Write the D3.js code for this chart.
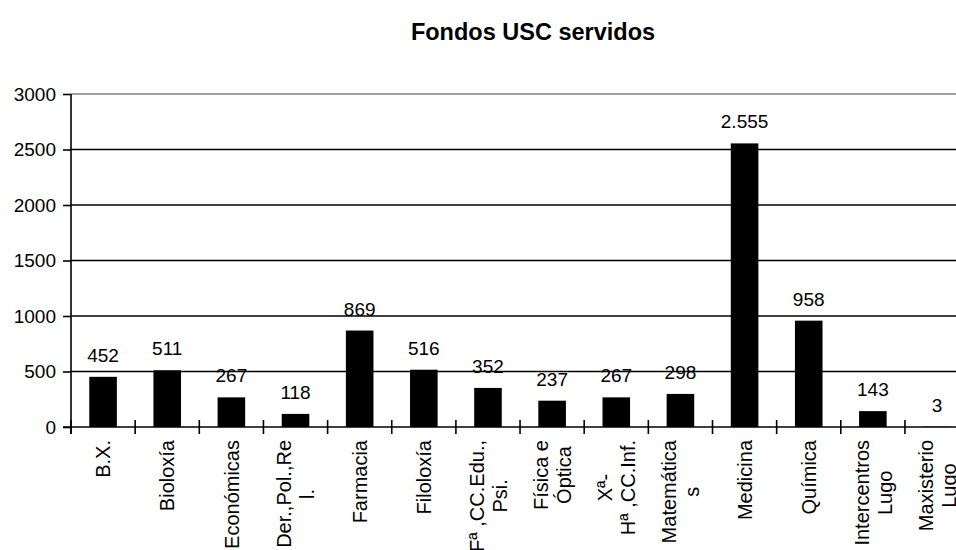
<!DOCTYPE html>
<html><head><meta charset="utf-8">
<script src="https://cdn.jsdelivr.net/npm/d3@7"></script>
<style>
body{margin:0;background:#fff}
svg{display:block}
text{font-family:"Liberation Sans",Arial,Helvetica,sans-serif;fill:#000}
</style>
</head><body>
<svg id="chart" width="956" height="550"></svg>
<script>
const chartTitle = "Fondos USC servidos";
const categories = ["B.X.","Bioloxía","Económicas","Der.,Pol.,Re\nl.","Farmacia","Filoloxía","Fª ,CC.Edu.,\nPsi.","Física e\nÓptica","Xª-\nHª ,CC.Inf.","Matemática\ns","Medicina","Química","Intercentros\nLugo","Maxisterio\nLugo"];
const values = [452,511,267,118,869,516,352,237,267,298,2555,958,143,3];
const valueLabels = ["452","511","267","118","869","516","352","237","267","298","2.555","958","143","3"];
const yTicks = [0,500,1000,1500,2000,2500,3000];

(function(){
const svg = d3.select("#chart");
const mLeft = 71, mTop = 94, mBottom = 427, band = 64.15;
const x = d3.scaleBand().domain(d3.range(categories.length)).range([mLeft, mLeft + band*categories.length]).paddingInner(0).paddingOuter(0);
const y = d3.scaleLinear().domain([0, 3000]).range([mBottom, mTop]);
const mRight = mLeft + band*categories.length;

// title
svg.append("text").attr("x", 533).attr("y", 40).attr("text-anchor","middle")
  .style("font-weight","bold").style("font-size","23.5px").text(chartTitle);

// gridlines
svg.append("g").selectAll("line").data(yTicks.filter(d=>d>0)).join("line")
  .attr("x1", mLeft).attr("x2", mRight).attr("y1", d=>y(d)).attr("y2", d=>y(d))
  .attr("stroke", d=> d===3000 ? "#808080" : "#000").attr("stroke-width", 1.6);

// bars
const bw = band*0.43;
svg.append("g").selectAll("rect").data(values).join("rect")
  .attr("x", (d,i)=> x(i) + x.bandwidth()/2 - bw/2)
  .attr("width", bw)
  .attr("y", d=>y(d)).attr("height", d=> mBottom - y(d))
  .attr("fill","#000");

// value labels
svg.append("g").selectAll("text").data(values).join("text")
  .attr("x", (d,i)=> x(i) + x.bandwidth()/2)
  .attr("y", d=> y(d) - 15)
  .attr("text-anchor","middle").style("font-size","19px")
  .text((d,i)=>valueLabels[i]);

// y axis
const yAxis = d3.axisLeft(y).tickValues(yTicks).tickSize(8).tickPadding(7).tickFormat(d3.format("d"));
const gy = svg.append("g").attr("transform", `translate(${mLeft},0)`).call(yAxis);
gy.attr("font-family", null).attr("font-size", null);
gy.select(".domain").remove();
gy.selectAll(".tick line").attr("stroke","#000").attr("stroke-width",1.6);
gy.selectAll(".tick text").style("font-size","19px");
svg.append("line").attr("x1", mLeft).attr("x2", mLeft).attr("y1", mTop).attr("y2", mBottom+7)
  .attr("stroke","#000").attr("stroke-width",1.6);

// x axis line + ticks at band boundaries
svg.append("line").attr("x1", mLeft-8).attr("x2", mRight).attr("y1", mBottom).attr("y2", mBottom)
  .attr("stroke","#000").attr("stroke-width",1.6);
const bounds = d3.range(categories.length+1).map(i => mLeft + i*x.step());
svg.append("g").selectAll("line").data(bounds).join("line")
  .attr("x1", d=>d).attr("x2", d=>d).attr("y1", mBottom-7).attr("y2", mBottom+7)
  .attr("stroke","#000").attr("stroke-width",1.6);

// x labels (rotated, multi-line)
const fs = 20, lh = 23, labelTop = 440;
categories.forEach((c,i) => {
  const lines = c.split("\n");
  const cx = x(i) + x.bandwidth()/2;
  const g = svg.append("g");
  const t = g.append("text").attr("text-anchor","middle").style("font-size", fs+"px");
  const n = lines.length;
  const spans = lines.map((ln,k) => t.append("tspan").attr("x",0)
      .attr("y", (k-(n-1)/2)*lh + 0.36*fs).text(ln));
  const maxW = d3.max(spans, s => s.node().getComputedTextLength());
  g.attr("transform", `translate(${cx},${labelTop + maxW/2}) rotate(-90)`);
});
})();
</script>
</body></html>
